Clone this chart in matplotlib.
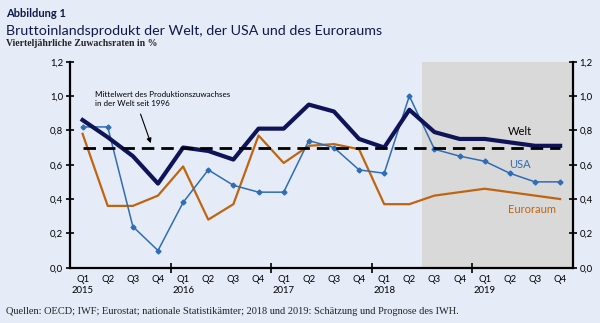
import matplotlib.pyplot as plt
import numpy as np
from matplotlib.ticker import FixedLocator, FuncFormatter

plt.rcParams["font.family"] = ["Lato", "DejaVu Sans"]

BG = "#E5ECF7"
NAVY = "#0E1457"
BLUE = "#2F6DB5"
ORANGE = "#C0650F"
SHADE = "#D9D9D9"

quarters = ["Q1", "Q2", "Q3", "Q4"] * 5
years = ["2015", "2016", "2017", "2018", "2019"]

welt = [0.86, 0.76, 0.65, 0.49, 0.70, 0.68, 0.63, 0.81, 0.81, 0.95,
        0.91, 0.75, 0.70, 0.92, 0.79, 0.75, 0.75, 0.73, 0.71, 0.71]
usa = [0.82, 0.82, 0.24, 0.10, 0.38, 0.57, 0.48, 0.44, 0.44, 0.74,
       0.70, 0.57, 0.55, 1.00, 0.69, 0.65, 0.62, 0.55, 0.50, 0.50]
euro = [0.78, 0.36, 0.36, 0.42, 0.59, 0.28, 0.37, 0.77, 0.61, 0.71,
        0.72, 0.69, 0.37, 0.37, 0.42, 0.44, 0.46, 0.44, 0.42, 0.40]
mittelwert = 0.70
forecast_start = 14  # Q3 2018

x = np.arange(len(welt))

fig = plt.figure(figsize=(6.0, 3.23), dpi=100, facecolor=BG)
ax = fig.add_axes([0.1167, 0.1712, 0.8378, 0.6378], facecolor=BG)

ax.axvspan(forecast_start - 0.5, len(x) - 0.5, color=SHADE, lw=0, zorder=0)

ax.plot(x, euro, color=ORANGE, lw=1.6, zorder=2)
ax.plot(x, usa, color=BLUE, lw=1.1, marker="D", ms=2.5, zorder=3)
ax.plot(x, welt, color=NAVY, lw=3.0, zorder=4)
ax.plot([x[0], x[-1]], [mittelwert, mittelwert], color="black", lw=2.0,
        dashes=(4.5, 2.5), zorder=5)

ax.text(17.4, 0.795, "Welt", color="black", fontsize=8, ha="center", va="center")
ax.text(17.4, 0.60, "USA", color=BLUE, fontsize=8, ha="center", va="center")
ax.text(17.9, 0.34, "Euroraum", color=ORANGE, fontsize=8, ha="center", va="center")

ax.text(0.5, 0.985, "Mittelwert des Produktionszuwachses\nin der Welt seit 1996",
        fontsize=5.8, ha="left", va="center", linespacing=1.35)
ax.annotate("", xy=(2.75, 0.71), xytext=(2.27, 0.91),
            arrowprops=dict(arrowstyle="-|>", color="black", lw=0.8,
                            mutation_scale=7))

ax.set_xlim(-0.5, len(x) - 0.5)
ax.set_ylim(0, 1.2)

ax.spines["top"].set_visible(False)
for side in ["left", "right", "bottom"]:
    ax.spines[side].set_linewidth(1.6)

ax.yaxis.set_major_locator(FixedLocator(np.arange(0, 1.21, 0.2)))
ax.yaxis.set_major_formatter(FuncFormatter(lambda v, p: f"{v:.1f}".replace(".", ",")))
ax.tick_params(axis="y", which="major", direction="inout", length=6, width=1.2,
               labelsize=6.8, left=True, right=True, labelleft=True,
               labelright=True, pad=2)

ax.set_xticks([3.5, 7.5, 11.5, 15.5])
ax.set_xticklabels([])
ax.tick_params(axis="x", which="major", direction="inout", length=7, width=1.2)
ax.set_xticks(x, minor=True)
labels = []
for i, q in enumerate(quarters):
    lab = q
    if i % 4 == 0:
        lab += "\n" + years[i // 4]
    labels.append(lab)
ax.set_xticklabels(labels, minor=True, fontsize=6.8, va="top", linespacing=1.3)
ax.tick_params(axis="x", which="minor", length=0, pad=5)

fig.text(0.01, 0.958, "Abbildung 1", fontsize=8, fontweight="bold",
         color="#101a4a", va="center")
fig.text(0.01, 0.905, "Bruttoinlandsprodukt der Welt, der USA und des Euroraums",
         fontsize=10.3, color="#101a4a", va="center")
fig.text(0.01, 0.866, "Vierteljährliche Zuwachsraten in %", fontsize=7,
         fontweight="bold", family="Liberation Serif", color="#222222", va="center")
fig.text(0.01, 0.037,
         "Quellen: OECD; IWF; Eurostat; nationale Statistikämter; 2018 und 2019: "
         "Schätzung und Prognose des IWH.",
         fontsize=7.5, family="Liberation Serif", color="#222222", va="center")

fig.savefig("out.png", dpi=100, facecolor=BG)
